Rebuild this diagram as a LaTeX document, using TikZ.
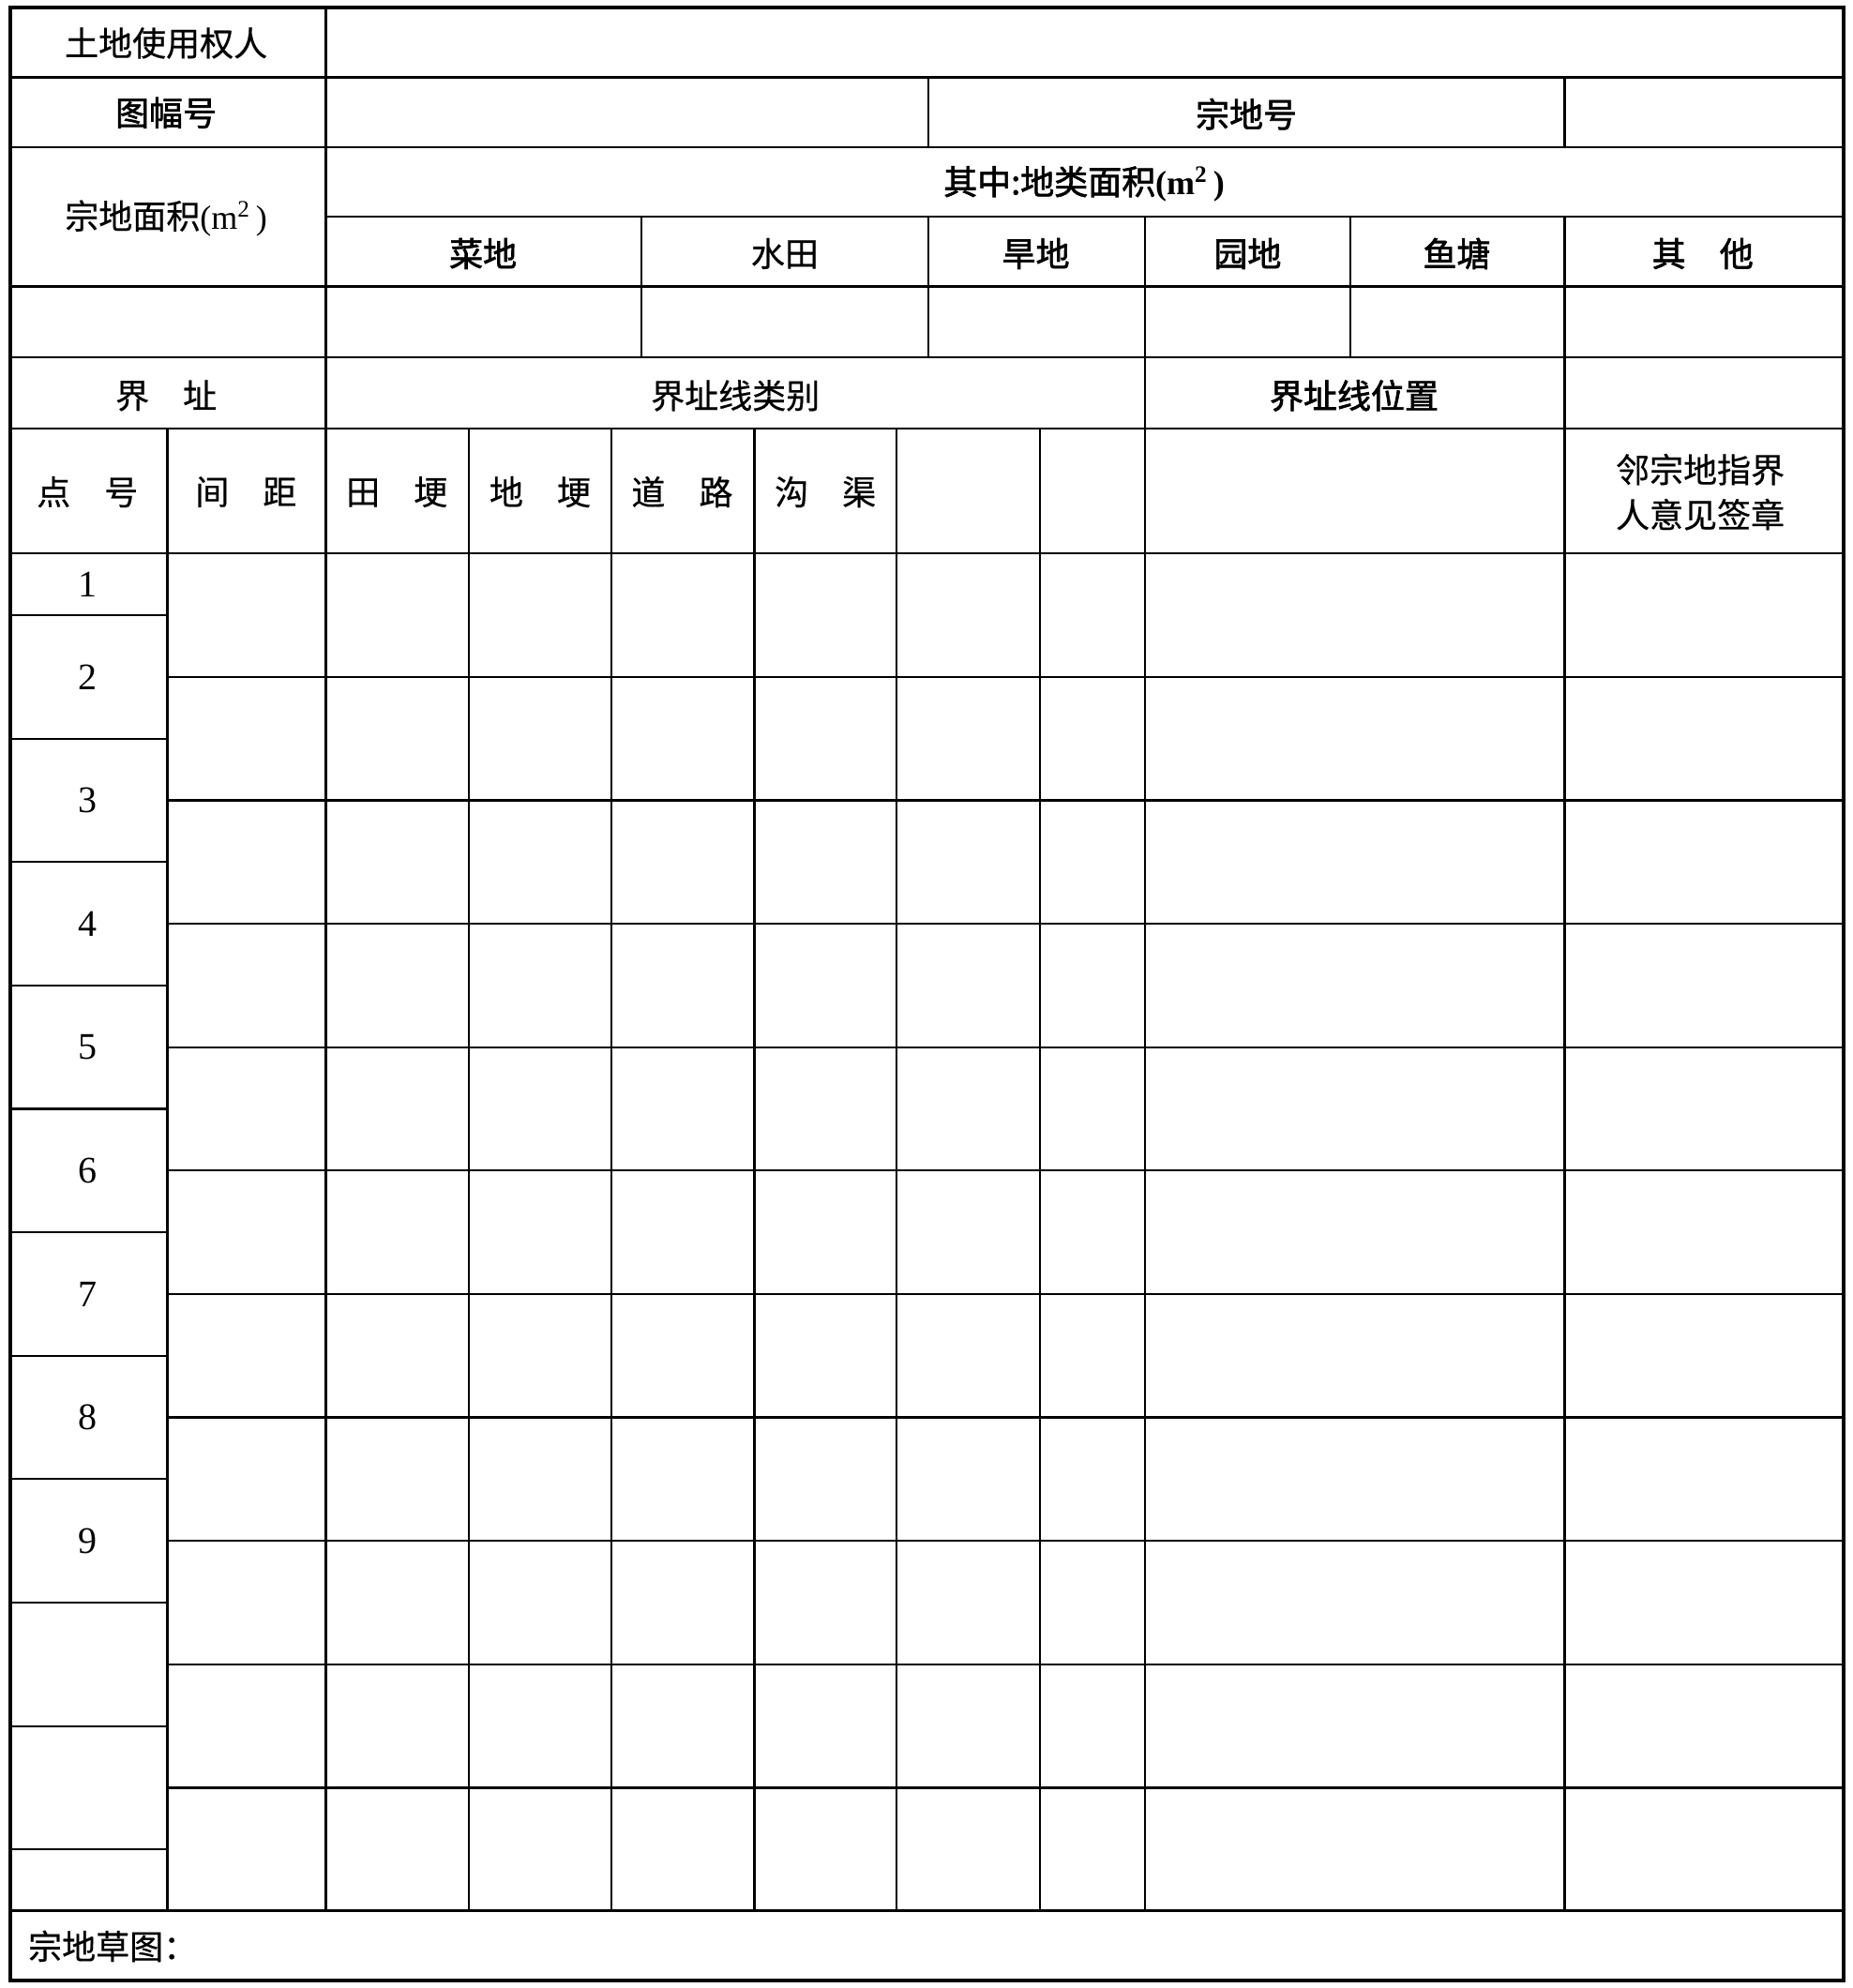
\documentclass[tikz,border=0pt]{standalone}
\usepackage{fontspec}
\setmainfont{Liberation Serif}
\newfontfamily\cjk[FakeBold=0.5]{Noto Sans CJK SC}
\newfontfamily\cjkb[FakeBold=1.8]{Noto Sans CJK SC}
\begin{document}
\begin{tikzpicture}[x=0.6759pt,y=-0.6759pt]
\tikzset{
  gridline/.style={line width=1.1pt},
  frameline/.style={line width=2pt},
  lab/.style={font=\cjk\fontsize{18}{24}\selectfont, inner sep=0pt, anchor=center, align=center},
  blab/.style={lab, font=\cjkb\fontsize{18}{24}\selectfont},
  num/.style={font=\fontsize{20}{22}\selectfont, inner sep=0pt, anchor=center}
}
\useasboundingbox (0,0) rectangle (1461,1568);
\fill[white] (0,0) rectangle (1461,1568);
% column positions
\def\xL{8}\def\xR{1454}
\def\cA{132}\def\cB{257}\def\cC{370}\def\cD{482}\def\cE{595}\def\cF{707}\def\cG{820}\def\cH{903}\def\cI{1234}
% full-width horizontal rules
\foreach \yy in {61,116,226,282,338,436.5,1507}
  \draw[gridline] (\xL,\yy) -- (\xR,\yy);
\draw[gridline] (\cB,171) -- (\xR,171);
% right-hand row rules
\foreach \k in {1,...,10}
  \draw[gridline] (\cA,{436.5+\k*97.35}) -- (\xR,{436.5+\k*97.35});
% left column (point numbers) rules
\foreach \k in {0,...,10}
  \draw[gridline] (\xL,{485.2+\k*97.35}) -- (\cA,{485.2+\k*97.35});
% vertical rules
\draw[gridline] (\cB,6) -- (\cB,1507);
\foreach \xx in {\cA,\cC,\cD,\cE,\cF,\cG}
  \draw[gridline] (\xx,338) -- (\xx,1507);
\draw[gridline] (\cH,171) -- (\cH,1507);
\draw[gridline] (\cI,61) -- (\cI,116);
\draw[gridline] (\cI,171) -- (\cI,1507);
\draw[gridline] (732,61) -- (732,116);
\draw[gridline] (732,171) -- (732,282);
\draw[gridline] (506,171) -- (506,282);
\draw[gridline] (1065,171) -- (1065,282);
% outer frame
\draw[frameline] (\xL,6) rectangle (\xR,1562);
% labels
\node[lab]  (owner)   at (131,34)  {土地使用权人};
\node[blab] (sheet)   at (131,89)  {图幅号};
\node[blab] (parcel)  at (983,90)  {宗地号};
\node[blab] (sub)     at (855,145) {其中:地类面积{\rmfamily\bfseries (m\textsuperscript{2}\,)}};
\node[lab]  (area)    at (131,172) {宗地面积{\rmfamily (m\textsuperscript{2}\,)}};
\node[blab] (veg)     at (381,200) {菜地};
\node[lab]  (paddy)   at (619,200) {水田};
\node[blab] (dry)     at (817,200) {旱地};
\node[blab] (garden)  at (984,200) {园地};
\node[blab] (pond)    at (1149,200) {鱼塘};
\node[blab] (other)   at (1343,200) {其\hspace{1em}他};
\node[lab]  (bound)   at (131,312) {界\hspace{1em}址};
\node[lab]  (btype)   at (580,312) {界址线类别};
\node[blab] (bpos)    at (1068,312) {界址线位置};
\node[lab]  (pt)      at (69,388)  {点\hspace{1em}号};
\node[lab]  (dist)    at (194,388) {间\hspace{1em}距};
\node[lab]  (ridge)   at (313,388) {田\hspace{1em}埂};
\node[lab]  (dike)    at (426,388) {地\hspace{1em}埂};
\node[lab]  (road)    at (538,388) {道\hspace{1em}路};
\node[lab]  (ditch)   at (651,388) {沟\hspace{1em}渠};
\node[lab]  (sign)    at (1341,388) {邻宗地指界\\人意见签章};
\node[num]  (n1) at (69,461) {1};
\foreach \k in {2,...,9}
  \node[num] (n\k) at (69,{485.2+(\k-1.5)*97.35}) {\k};
\node[lab, anchor=west] (sketch) at (22,1535) {宗地草图：};
\end{tikzpicture}
\end{document}
